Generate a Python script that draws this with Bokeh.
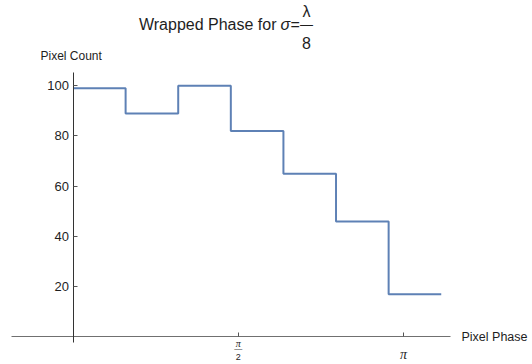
import math
from bokeh.plotting import figure
from bokeh.models import Label, FixedTicker, Range1d
from bokeh.embed import file_html
from bokeh.resources import INLINE

# ---- data ----
bin_edges = [0.0, 0.5, 1.0, 1.5, 2.0, 2.5, 3.0, 3.5]
pixel_counts = [99, 89, 100, 82, 65, 46, 17]
y_ticks = [20, 40, 60, 80, 100]
x_ticks = [math.pi / 2, math.pi]
x_tick_labels = ["π/2", "π"]
title_main = "Wrapped Phase for"
title_sym = "σ"
title_num = "λ"
title_den = "8"
x_label = "Pixel Phase"
y_label = "Pixel Count"

# ---- layout ----
W, H = 532, 364
# visible axis extents (data) and their pixel positions
AX_X = (-0.5846, 3.588)   # x-axis line spans px 11..450
AX_Y = (-2.19, 105.27)    # y-axis line spans px 342..72
PX_X = (11, 450)
PX_Y = (72, 342)
kx = (PX_X[1] - PX_X[0]) / (AX_X[1] - AX_X[0])
ky = (PX_Y[1] - PX_Y[0]) / (AX_Y[1] - AX_Y[0])
XR = (AX_X[0] - PX_X[0] / kx, AX_X[1] + (W - PX_X[1]) / kx)
YR = (AX_Y[0] - (H - PX_Y[1]) / ky, AX_Y[1] + PX_Y[0] / ky)

def dx(sx):
    return XR[0] + sx / kx

def dy(sy):
    return YR[1] - sy / ky

p = figure(width=W, height=H, output_backend="svg", toolbar_location=None,
           x_range=Range1d(*XR), y_range=Range1d(*YR),
           min_border=0)
p.outline_line_color = None
p.grid.visible = False
p.background_fill_color = "white"
p.border_fill_color = "white"

p.xaxis.fixed_location = 0
p.yaxis.fixed_location = 0

TXT = "#1e1e1e"

yax = p.yaxis[0]
yax.bounds = AX_Y
yax.ticker = FixedTicker(ticks=y_ticks, minor_ticks=[])
yax.axis_line_color = "#333333"
yax.major_tick_line_color = "#555555"
yax.major_tick_in = 4
yax.major_tick_out = 0
yax.minor_tick_in = 0
yax.minor_tick_out = 0
yax.major_label_standoff = 4
yax.major_label_text_font = "Liberation Sans"
yax.major_label_text_font_size = "13px"
yax.major_label_text_color = TXT

xax = p.xaxis[0]
xax.bounds = AX_X
xax.ticker = FixedTicker(ticks=x_ticks, minor_ticks=[])
xax.axis_line_color = "#707070"
xax.major_tick_line_color = "#555555"
xax.major_tick_in = 4
xax.major_tick_out = 0
xax.minor_tick_in = 0
xax.minor_tick_out = 0
xax.major_label_standoff = 10
xax.major_label_overrides = {x_ticks[0]: "", x_ticks[1]: x_tick_labels[1]}
xax.major_label_text_font = "Liberation Serif"
xax.major_label_text_font_size = "14px"
xax.major_label_text_font_style = "italic"
xax.major_label_text_color = TXT

p.step(bin_edges, pixel_counts + [pixel_counts[-1]], mode="after",
       line_width=2, line_color="#5E81B5")

def lab(x, y, text, size, align="left", font="Liberation Sans", style="normal",
        y_offset=0):
    p.add_layout(Label(x=x, y=y, text=text, text_font=font,
                       text_font_size=size, text_font_style=style,
                       text_align=align, text_baseline="middle",
                       text_color=TXT, y_offset=y_offset))

# pi/2 tick label as a stacked fraction
num, den = x_tick_labels[0].split("/")
lab(x_ticks[0], 0, num, "10px", "center", "Liberation Serif", "italic", y_offset=-7)
lab(x_ticks[0], 0, "—", "8px", "center", y_offset=-12)
lab(x_ticks[0], 0, den, "9px", "center", y_offset=-20)

# axis labels
lab(dx(40), dy(55), y_label, "12px")
lab(dx(461), 0, x_label, "12.5px")

# title
lab(dx(276), dy(24), title_main, "16px", "right")
lab(dx(280), dy(24), title_sym, "16px", "left", style="italic")
lab(dx(290), dy(24), "=", "16px", "left")
lab(dx(306), dy(11), title_num, "16px", "center")
lab(dx(306), dy(24), "—", "13px", "center")
lab(dx(306), dy(42), title_den, "16px", "center")

open("out.html", "w").write(file_html(p, INLINE))
